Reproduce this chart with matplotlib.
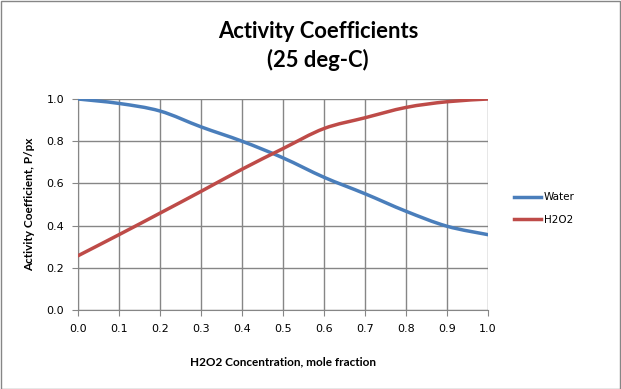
import matplotlib.pyplot as plt
import numpy as np
from matplotlib.path import Path
from matplotlib.patches import PathPatch
from matplotlib.lines import Line2D

# mole fraction H2O2
x_frac = [0.0, 0.1, 0.2, 0.3, 0.4, 0.5, 0.6, 0.7, 0.8, 0.9, 1.0]
water = [1.0, 0.979, 0.943, 0.868, 0.80, 0.721, 0.629, 0.551, 0.468, 0.397, 0.357]
h2o2 = [0.257, 0.357, 0.459, 0.562, 0.667, 0.765, 0.86, 0.911, 0.96, 0.987, 1.0]

x_ticks = [0.0, 0.1, 0.2, 0.3, 0.4, 0.5, 0.6, 0.7, 0.8, 0.9, 1.0]
y_ticks = [0.0, 0.2, 0.4, 0.6, 0.8, 1.0]


def smooth_path(xs, ys):
    # excel style smoothed line: cubic bezier segments through the points
    p = np.column_stack([xs, ys])
    verts = [p[0]]
    codes = [Path.MOVETO]
    n = len(p)
    for i in range(n - 1):
        p0 = p[i - 1] if i > 0 else p[i]
        p3 = p[i + 2] if i + 2 < n else p[i + 1]
        c1 = p[i] + (p[i + 1] - p0) / 6
        c2 = p[i + 1] - (p3 - p[i]) / 6
        verts += [c1, c2, p[i + 1]]
        codes += [Path.CURVE4] * 3
    return Path(verts, codes)


fig = plt.figure(figsize=(6.21, 3.89), dpi=100)
ax = fig.add_axes([0.1256, 0.2031, 0.6602, 0.5424])

series = [('Water', water, '#4A7EBB'), ('H2O2', h2o2, '#BE4B48')]
handles = []
for name, vals, col in series:
    ax.add_patch(PathPatch(smooth_path(x_frac, vals), fill=False, edgecolor=col,
                           lw=2.5, capstyle='round', zorder=3))
    handles.append(Line2D([], [], color=col, lw=2.5, label=name))

ax.set_xlim(0, 1)
ax.set_ylim(0, 1)
ax.set_xticks(x_ticks)
ax.set_yticks(y_ticks)
ax.set_xticklabels([f"{v:.1f}" for v in x_ticks])
ax.set_yticklabels([f"{v:.1f}" for v in y_ticks])
ax.grid(True, color='#868686', lw=1)
ax.set_axisbelow(True)
for s in ['top', 'right']:
    ax.spines[s].set_visible(False)
for s in ['left', 'bottom']:
    ax.spines[s].set_color('#868686')
ax.tick_params(direction='out', length=4, color='#868686', labelsize=8, pad=6)

ax.set_xlabel('H2O2 Concentration, mole fraction', fontsize=8.5, fontweight='bold',
              family='Lato', labelpad=16)
ax.set_ylabel('Activity Coefficient, P/px', fontsize=8.5, fontweight='bold',
              family='Lato', labelpad=8)

fig.text(0.512, 0.881, 'Activity Coefficients\n(25 deg-C)', ha='center', va='center',
         fontsize=15.8, fontweight='bold', family='Lato', linespacing=1.4)

ax.legend(handles=handles, loc='center left', bbox_to_anchor=(1.04, 0.48), frameon=False,
          fontsize=7.5, handlelength=2.6, labelspacing=1.2, handletextpad=0.3)

# chart border
fig.patches.append(plt.Rectangle((0.001, 0.001), 0.997, 0.996, transform=fig.transFigure,
                                 fill=False, edgecolor='#868686', lw=1))

plt.savefig('out.png', dpi=100)
